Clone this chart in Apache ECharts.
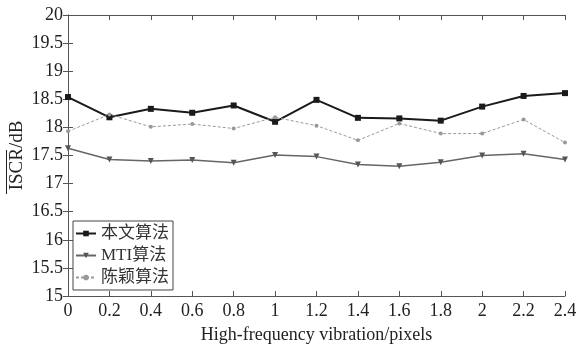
<!DOCTYPE html>
<html>
<head>
<meta charset="utf-8">
<script src="https://cdn.jsdelivr.net/npm/echarts@6/dist/echarts.min.js"></script>
<style>
  html, body { margin: 0; padding: 0; background: #fff; }
  #chart { width: 576px; height: 347px; }
</style>
</head>
<body>
<div id="chart"></div>
<script>
// vibration amplitude (pixels)
var vibration = [0, 0.2, 0.4, 0.6, 0.8, 1, 1.2, 1.4, 1.6, 1.8, 2, 2.2, 2.4];
var ours = [18.54, 18.18, 18.33, 18.26, 18.39, 18.10, 18.49, 18.17, 18.16, 18.12, 18.37, 18.56, 18.61];
var mti = [17.63, 17.43, 17.40, 17.42, 17.37, 17.51, 17.48, 17.34, 17.31, 17.38, 17.50, 17.53, 17.43];
var chenying = [17.93, 18.23, 18.01, 18.06, 17.98, 18.18, 18.03, 17.77, 18.07, 17.89, 17.89, 18.14, 17.73];
var seriesNames = ['本文算法', 'MTI算法', '陈颖算法'];

var font = '"Liberation Serif", "Noto Sans CJK SC", serif';
var axisColor = '#555';

function pairs(ys) {
  return vibration.map(function (x, i) { return [x, ys[i]]; });
}

var chart = echarts.init(document.getElementById('chart'));

var axisBase = {
  axisLine: { show: true, lineStyle: { color: axisColor, width: 1 } },
  axisTick: { show: true, inside: true, length: 5, lineStyle: { color: axisColor } },
  splitLine: { show: false }
};

chart.setOption({
  animation: false,
  grid: { left: 68, top: 15, right: 11, bottom: 51, outerBoundsMode: 'none' },
  legend: {
    data: seriesNames,
    orient: 'vertical',
    left: 73,
    top: 221,
    padding: [4, 4, 4, 2],
    itemGap: 5,
    itemWidth: 20,
    itemHeight: 7,
    backgroundColor: '#fff',
    borderColor: '#444',
    borderWidth: 1,
    borderRadius: 0,
    textStyle: { fontFamily: font, fontSize: 17, color: '#333' }
  },
  xAxis: [
    Object.assign({}, axisBase, {
      type: 'value', min: 0, max: 2.4, interval: 0.2,
      name: 'High-frequency vibration/pixels',
      nameLocation: 'middle', nameGap: 30, nameMoveOverlap: false,
      nameTextStyle: { fontFamily: font, fontSize: 18, color: '#222' },
      axisLabel: { fontFamily: font, fontSize: 18, color: '#222', margin: 6 }
    }),
    Object.assign({}, axisBase, {
      type: 'value', min: 0, max: 2.4, interval: 0.2, position: 'top',
      axisLabel: { show: false }
    })
  ],
  yAxis: [
    Object.assign({}, axisBase, {
      type: 'value', min: 15, max: 20, interval: 0.5,
      name: 'ISCR/dB',
      nameLocation: 'middle', nameGap: 41, nameMoveOverlap: false,
      nameTextStyle: { fontFamily: font, fontSize: 19, color: '#222' },
      axisLabel: { fontFamily: font, fontSize: 18, color: '#222', margin: 5 }
    }),
    Object.assign({}, axisBase, {
      type: 'value', min: 15, max: 20, interval: 0.5, position: 'right',
      axisLabel: { show: false }
    })
  ],
  graphic: [{
    type: 'line',
    shape: { x1: 6.5, y1: 150, x2: 6.5, y2: 194 },
    style: { stroke: '#222', lineWidth: 1 }
  }],
  series: [
    {
      name: seriesNames[0], type: 'line', data: pairs(ours),
      symbol: 'rect', symbolSize: 6,
      lineStyle: { color: '#1a1a1a', width: 2 },
      itemStyle: { color: '#1a1a1a' }
    },
    {
      name: seriesNames[1], type: 'line', data: pairs(mti),
      symbol: 'triangle', symbolRotate: 180, symbolSize: 6,
      lineStyle: { color: '#666', width: 1.5 },
      itemStyle: { color: '#555' }
    },
    {
      name: seriesNames[2], type: 'line', data: pairs(chenying),
      symbol: 'circle', symbolSize: 4,
      lineStyle: { color: '#999', width: 1, type: [3, 2] },
      itemStyle: { color: '#999' }
    }
  ]
});
</script>
</body>
</html>
